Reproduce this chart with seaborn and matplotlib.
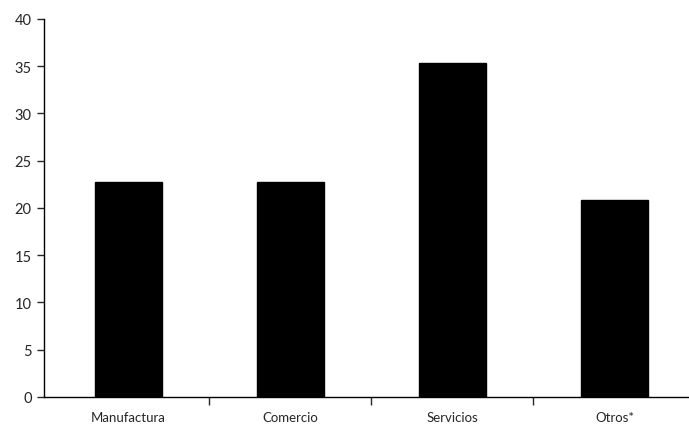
import matplotlib

matplotlib.use("Agg")
import matplotlib.pyplot as plt
import pandas as pd
import seaborn as sns
from matplotlib.ticker import FixedLocator

# values
categories = ["Manufactura", "Comercio", "Servicios", "Otros*"]
values = [22.7, 22.7, 35.3, 20.8]
y_ticks = [0, 5, 10, 15, 20, 25, 30, 35, 40]

df = pd.DataFrame({"sector": categories, "valor": values})

sns.set_style("ticks")
plt.rcParams["font.family"] = ["Lato", "DejaVu Sans"]

fig = plt.figure(figsize=(6.89, 4.31), dpi=100)
ax = fig.add_axes([0.064, 0.0766, 0.936, 0.877])

sns.barplot(data=df, x="sector", y="valor", color="black", width=0.415,
            saturation=1, ax=ax, edgecolor="black")

ax.set_ylim(0, 40)
ax.set_xlim(-0.52, 3.46)
ax.set_yticks(y_ticks)
ax.tick_params(axis="y", labelsize=10.5, length=5, width=1, direction="out", pad=4)

# category labels at bar centres, tick marks between categories
ax.xaxis.set_major_locator(FixedLocator([0.5, 1.5, 2.5]))
ax.xaxis.set_minor_locator(FixedLocator(range(len(categories))))
ax.set_xticklabels([], minor=False)
ax.set_xticklabels(categories, minor=True)
ax.tick_params(axis="x", which="major", length=6, width=1, direction="out")
ax.tick_params(axis="x", which="minor", length=0, labelsize=9.5, pad=10)

ax.set_xlabel("")
ax.set_ylabel("")
sns.despine(ax=ax)
for side in ["left", "bottom"]:
    ax.spines[side].set_linewidth(1)
    ax.spines[side].set_color("black")

fig.savefig("out.png", dpi=100)
